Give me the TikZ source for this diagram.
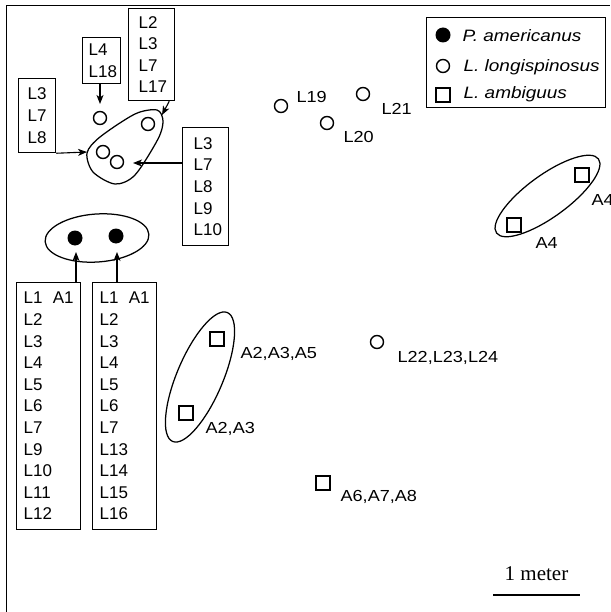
\documentclass[tikz,border=0pt]{standalone}
\usepackage{fontspec}
\setmainfont{Liberation Sans}
\newfontfamily\labfont[FakeStretch=1.13]{Liberation Sans}
\newfontfamily\legfont[FakeStretch=1.15]{Liberation Sans}
\newfontfamily\boxfont{Liberation Sans}
\newfontfamily\serfont{Liberation Serif}
\usetikzlibrary{arrows.meta}
\begin{document}
\begin{tikzpicture}[x=1pt,y=-1pt,line width=1.25pt,
  lbox/.style={draw,rectangle,align=left,inner ysep=0pt,anchor=north west,
    font={\boxfont\fontsize{17}{21.6}\selectfont}},
  ocirc/.style={draw,circle,minimum size=13pt,inner sep=0pt,line width=1.4pt},
  fcirc/.style={fill,circle,minimum size=15pt,inner sep=0pt},
  osq/.style={draw,rectangle,minimum size=14pt,inner sep=0pt,line width=1.4pt},
  lab/.style={font={\labfont\fontsize{16}{18}\selectfont},anchor=base west,inner sep=0pt},
  leg/.style={font={\legfont\itshape\fontsize{16.5}{18}\selectfont},anchor=base west,inner sep=0pt},
  arr/.style={-{Stealth[length=9pt,width=7pt,inset=2.5pt]},line width=1.1pt}]
\useasboundingbox (0,0) rectangle (610,612);
% frame
\draw[line width=1.4pt] (6.5,612) -- (6.5,5.5) -- (610,5.5);

% legend
\node[draw,rectangle,minimum width=179pt,minimum height=90pt,inner sep=0pt,anchor=north west] (legend) at (426,17) {};
\node[fcirc] (lg1) at (443,35) {};
\node[ocirc] (lg2) at (443,66) {};
\node[osq] (lg3) at (443,95) {};
\node[leg] (lgt1) at (462,42) {P. americanus};
\node[leg] (lgt2) at (463,72) {L. longispinosus};
\node[leg] (lgt3) at (463,98.5) {L. ambiguus};

% cluster of L. longispinosus, upper left
\node[ocirc] (c1) at (100,118) {};
\node[ocirc] (c2) at (148,124) {};
\node[ocirc] (c3) at (103,152) {};
\node[ocirc] (c4) at (117,162) {};
\draw plot[smooth cycle] coordinates {(157,110) (163,121) (158,139) (135,175) (115,184) (93,172) (87,153) (100,137) (135,114)};

% boxes
\node[lbox,text width=26pt,inner xsep=6pt,minimum height=46pt] (bA) at (82,37) {L4\\L18};
\node[lbox,text width=26pt,inner xsep=10pt,minimum height=92pt] (bB) at (128,8) {L2\\L3\\L7\\L17};
\node[lbox,text width=19pt,inner xsep=9pt,minimum height=74pt] (bC) at (18,78) {L3\\L7\\L8};
\node[lbox,text width=24pt,inner xsep=11pt,minimum height=118pt] (bD) at (182,127) {L3\\L7\\L8\\L9\\L10};
\node[lbox,text width=50pt,inner xsep=7pt,minimum height=247pt] (bE) at (16,282) {L1\hfill A1\hspace*{-4pt}\\L2\\L3\\L4\\L5\\L6\\L7\\L9\\L10\\L11\\L12};
\node[lbox,text width=50pt,inner xsep=7pt,minimum height=247pt] (bF) at (92,282) {L1\hfill A1\hspace*{-4pt}\\L2\\L3\\L4\\L5\\L6\\L7\\L13\\L14\\L15\\L16};

% arrows
\coordinate (tA) at (100,104);
\coordinate (tB) at (162,115);
\coordinate (tC) at (87,152);
\coordinate (tD) at (133,163);
\coordinate (tE) at (76,252);
\coordinate (tF) at (117,252);
\draw[arr] (tA |- bA.south) -- (tA);
\draw[arr] ([xshift=-6pt]bB.south east) -- (tB);
\draw[arr] (bC.south east) -- (tC);
\draw[arr] (bD.west |- tD) -- (tD);
\draw[arr] (tE |- bE.north) -- (tE);
\draw[arr] (tF |- bF.north) -- (tF);

% P. americanus
\node[fcirc] (p1) at (75,238) {};
\node[fcirc] (p2) at (116,236) {};
\draw[rotate around={4:(97,238)}] (97,238) ellipse [x radius=52pt,y radius=24pt];

% other L. longispinosus
\node[ocirc] (l19) at (281,106) {};
\node[ocirc] (l21) at (363,94) {};
\node[ocirc] (l20) at (327,123) {};
\node[ocirc] (l22) at (377,342) {};
\node[lab] (tl19) at (296,103) {L19};
\node[lab] (tl21) at (381,115) {L21};
\node[lab] (tl20) at (343,143) {L20};
\node[lab] (tl22) at (397,362.5) {L22,L23,L24};

% L. ambiguus
\node[osq] (a2a) at (217,339) {};
\node[osq] (a2b) at (186,413) {};
\node[osq] (a6) at (323,483) {};
\node[osq] (a4a) at (582,175) {};
\node[osq] (a4b) at (514,225) {};
\draw[rotate around={67:(200,377)}] (200,377) ellipse [x radius=70pt,y radius=23pt];
\draw[rotate around={36:(547.5,196)}] (547.5,196) ellipse [x radius=63pt,y radius=21pt];
\node[lab] (ta2a) at (240,358) {A2,A3,A5};
\node[lab] (ta2b) at (205,433) {A2,A3};
\node[lab] (ta6) at (340,501) {A6,A7,A8};
\node[lab] (ta4a) at (591,205) {A4};
\node[lab] (ta4b) at (535,248) {A4};

% scale bar
\coordinate (sb1) at (493,595);
\coordinate (sb2) at (580,595);
\draw[line width=2.2pt] (sb1) -- (sb2);
\node[font={\serfont\fontsize{21}{24}\selectfont},anchor=base,inner sep=0pt] (sbt) at (536.5,580) {1 meter};
\end{tikzpicture}
\end{document}
